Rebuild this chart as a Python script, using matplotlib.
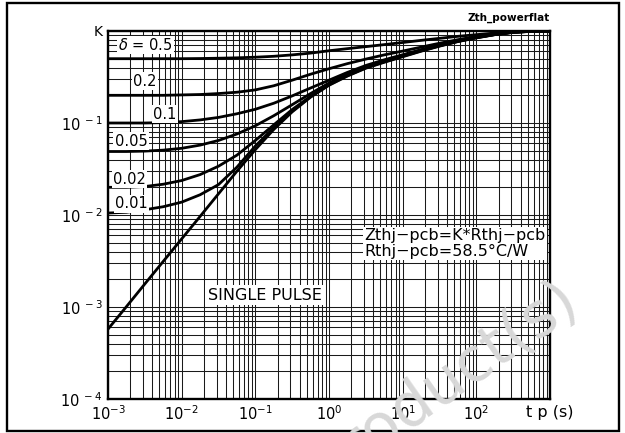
import numpy as np
import matplotlib
matplotlib.use('Agg')
import matplotlib.pyplot as plt
from matplotlib.patches import Rectangle
from matplotlib.ticker import LogLocator, NullFormatter

# ---- data ----
t = [1e-3, 1.78e-3, 3.16e-3, 5.62e-3, 0.01, 0.0178, 0.0316, 0.0562, 0.1, 0.178, 0.316, 0.562,
     1, 1.78, 3.16, 5.62, 10, 17.8, 31.6, 56.2, 100, 178, 316, 562, 1000]
k_d05 = [0.5, 0.5, 0.5, 0.5, 0.5, 0.502, 0.506, 0.511, 0.519, 0.531, 0.550, 0.575,
         0.610, 0.643, 0.676, 0.711, 0.750, 0.791, 0.832, 0.875, 0.912, 0.951, 0.979, 0.995, 1.0]
k_d02 = [0.200, 0.200, 0.200, 0.200, 0.202, 0.204, 0.209, 0.216, 0.229, 0.254, 0.292, 0.339,
         0.389, 0.442, 0.495, 0.550, 0.605, 0.668, 0.736, 0.805, 0.871, 0.929, 0.975, 0.993, 1.0]
k_d01 = [0.100, 0.100, 0.100, 0.101, 0.1035, 0.108, 0.115, 0.126, 0.141, 0.164, 0.197, 0.240,
         0.292, 0.355, 0.422, 0.486, 0.552, 0.627, 0.706, 0.785, 0.859, 0.923, 0.973, 0.993, 1.0]
k_d005 = [0.0490, 0.0490, 0.0495, 0.0507, 0.0531, 0.0575, 0.0646, 0.0759, 0.0933, 0.120, 0.158, 0.209,
          0.272, 0.339, 0.409, 0.475, 0.543, 0.619, 0.700, 0.780, 0.853, 0.918, 0.973, 0.993, 1.0]
k_d002 = [0.0200, 0.0200, 0.0204, 0.0216, 0.0237, 0.0275, 0.0339, 0.0447, 0.0646, 0.0955, 0.140, 0.195,
          0.263, 0.331, 0.403, 0.468, 0.537, 0.614, 0.693, 0.774, 0.849, 0.916, 0.970, 0.993, 1.0]
k_d001 = [0.0105, 0.0107, 0.0114, 0.0123, 0.0138, 0.0166, 0.0214, 0.0331, 0.0562, 0.0891, 0.135, 0.193,
          0.260, 0.327, 0.398, 0.462, 0.531, 0.608, 0.689, 0.771, 0.845, 0.914, 0.968, 0.991, 1.0]
k_single = [5.75e-4, 1.01e-3, 1.78e-3, 3.13e-3, 5.50e-3, 9.66e-3, 0.0170, 0.0299, 0.0513, 0.0851, 0.132, 0.191,
            0.257, 0.324, 0.394, 0.457, 0.525, 0.603, 0.684, 0.767, 0.841, 0.912, 0.966, 0.991, 1.0]

series = [k_d05, k_d02, k_d01, k_d005, k_d002, k_d001, k_single]

# curve labels: text, t position, K position
label_texts = [r'$\delta$ = 0.5', '0.2', '0.1', '0.05', '0.02', '0.01']
label_t = [3.2e-3, 3.2e-3, 5.9e-3, 2.05e-3, 1.96e-3, 2.08e-3]
label_k = [0.705, 0.286, 0.125, 0.0637, 0.0246, 0.0132]

xticks = [1e-3, 1e-2, 1e-1, 1e0, 1e1, 1e2, 1e3]
xticklabels = [r'$10^{-3}$', r'$10^{-2}$', r'$10^{-1}$', r'$10^{0}$', r'$10^{1}$', r'$10^{2}$', 't p (s)']
yticks = [1e-4, 1e-3, 1e-2, 1e-1, 1]
yticklabels = [r'$10^{\;-4}$', r'$10^{\;-3}$', r'$10^{\;-2}$', r'$10^{\;-1}$', 'K']

plt.rcParams['mathtext.fontset'] = 'dejavusans'
plt.rcParams['font.family'] = ['DejaVu Sans']

W, H = 625, 433
fig = plt.figure(figsize=(W / 100, H / 100), dpi=100)
ax = fig.add_axes([108 / W, (H - 399) / H, 442 / W, 368 / H])
ax.set_xscale('log')
ax.set_yscale('log')
ax.set_xlim(1e-3, 1e3)
ax.set_ylim(1e-4, 1)

ax.xaxis.set_minor_locator(LogLocator(base=10, subs=np.arange(2, 10), numticks=30))
ax.yaxis.set_minor_locator(LogLocator(base=10, subs=np.arange(2, 10), numticks=30))
ax.xaxis.set_minor_formatter(NullFormatter())
ax.yaxis.set_minor_formatter(NullFormatter())
ax.set_xticks(xticks)
ax.set_xticklabels(xticklabels)
ax.set_yticks(yticks)
ax.set_yticklabels(yticklabels)
ax.tick_params(which='both', length=0)
ax.tick_params(axis='x', pad=4, labelsize=10.5)
ax.tick_params(axis='y', pad=4, labelsize=10.5)
ax.get_xticklabels()[-1].set_fontsize(11.5)
ax.get_yticklabels()[-1].set_fontsize(10)

ax.grid(True, which='both', color='#1a1a1a', lw=0.75)
ax.set_axisbelow(True)
for s in ax.spines.values():
    s.set_linewidth(1.7)

for k in series:
    ax.plot(t, k, color='black', lw=2.0, solid_capstyle='butt', solid_joinstyle='round', zorder=3)

for txt, lt, lk in zip(label_texts, label_t, label_k):
    ax.text(lt, lk, txt, fontsize=10.5, ha='center', va='center', zorder=4,
            bbox=dict(facecolor='white', edgecolor='none', pad=1.0))

ax.text(0.135, 1.35e-3, 'SINGLE PULSE', fontsize=11.5, ha='center', va='center', zorder=4,
        bbox=dict(facecolor='white', edgecolor='none', pad=2.0))
ax.text(3.0, 4.9e-3, 'Zthj\u2212pcb=K*Rthj\u2212pcb\nRthj\u2212pcb=58.5\u00b0C/W', fontsize=11.5,
        ha='left', va='center', zorder=4, linespacing=1.0,
        bbox=dict(facecolor='white', edgecolor='none', pad=1.0))

ax.text(1.0, 1.0 + 8 / 368, 'Zth_powerflat', transform=ax.transAxes, ha='right',
        va='bottom', fontsize=7.5, fontweight='bold')

# page frame
fig.patches.append(Rectangle((7 / W, 2 / H), 612 / W, 428 / H, transform=fig.transFigure,
                             fill=False, lw=1.7, ec='black'))

# watermark
fig.text(582 / W, 1 - 310 / H, 'Obsolete Product(s)', ha='right', va='baseline',
         rotation=35, rotation_mode='anchor', fontsize=44, color='#d8d8d8', zorder=10)

fig.savefig('out.png', dpi=100)
